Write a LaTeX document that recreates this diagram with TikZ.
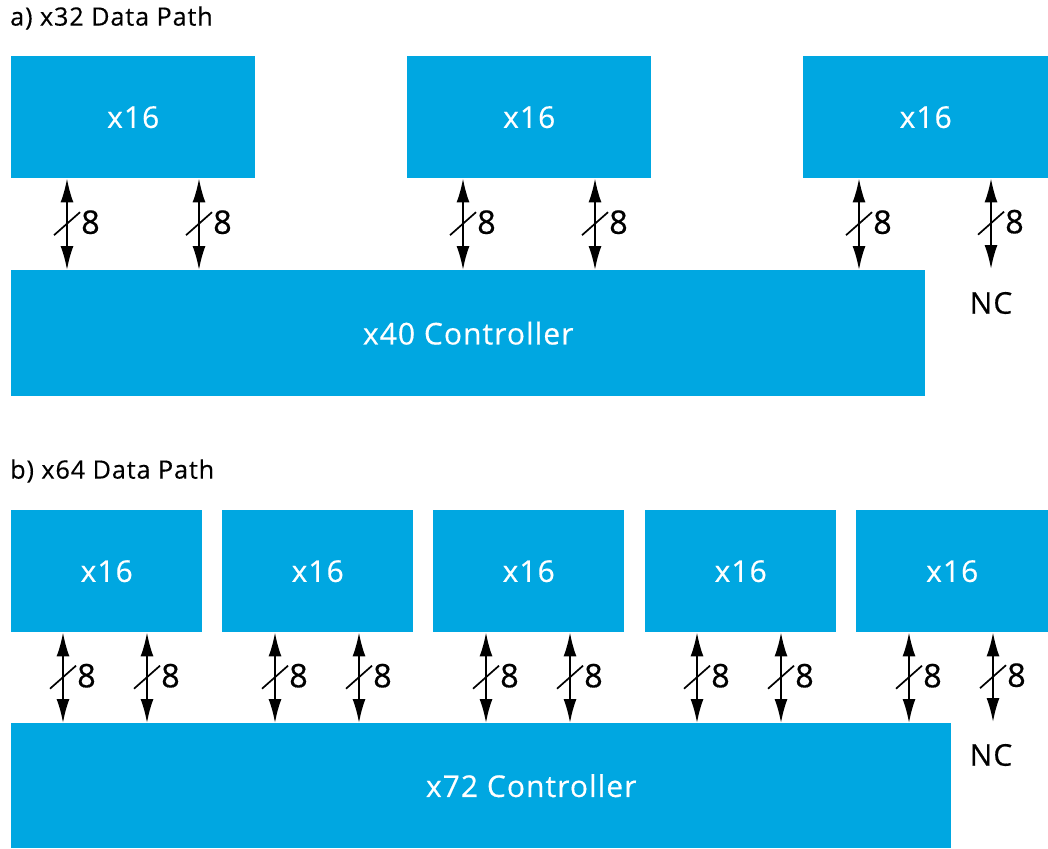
\documentclass[tikz,border=0pt]{standalone}
\usepackage{fontspec}
\setmainfont{Open Sans}[LetterSpace=3.5,FakeBold=0.4]
\usetikzlibrary{arrows.meta,calc}
\definecolor{chip}{RGB}{0,167,225}
\newcommand\busline[3]{%
  \draw[bus] (#2.south -| #1,0) -- (#3.north -| #1,0) coordinate[midway] (m);
  \draw[slash] ($(m)+(-13,11)$) -- ($(m)+(13,-12)$);
  \node[lab] at ($(m)+(14,-2)$) {8};}
\newcommand\ncline[3]{%
  \draw[bus] (#2.south -| #1,0) -- (#3) coordinate[midway] (m);
  \draw[slash] ($(m)+(-13,11)$) -- ($(m)+(13,-12)$);
  \node[lab] at ($(m)+(14,-2)$) {8};}
\begin{document}
\begin{tikzpicture}[x=1pt,y=-1pt,
  box/.style={fill=chip, text=white, inner sep=0, anchor=north west,
    font=\fontsize{30}{36}\selectfont},
  boxtext/.style={text=white, inner sep=0, font=\fontsize{30}{36}\selectfont},
  bus/.style={{Latex[length=24pt,width=13pt]}-{Latex[length=24pt,width=13pt]}, line width=2pt},
  slash/.style={line width=1.7pt},
  lab/.style={anchor=west, inner sep=0, font=\fontsize{32.5}{38}\selectfont},
  title/.style={anchor=west, inner sep=0, font=\fontsize{25.2}{30}\selectfont},
  nc/.style={inner sep=0, font=\fontsize{30}{36}\selectfont}]
\useasboundingbox (0,0) rectangle (1048,848);
% ---------- a)
\node[title] (ta) at (10,18) {a) x32 Data Path};
\node[box, minimum width=244pt, minimum height=122pt] (a1) at (11,56) {x16};
\node[box, minimum width=244pt, minimum height=122pt] (a2) at (407,56) {x16};
\node[box, minimum width=245pt, minimum height=122pt] (a3) at (803,56) {x16};
\node[box, minimum width=914pt, minimum height=126pt] (ca) at (11,270) {x40 Controller};
\busline{67}{a1}{ca}
\busline{199}{a1}{ca}
\busline{463}{a2}{ca}
\busline{595}{a2}{ca}
\busline{859}{a3}{ca}
\coordinate (nca) at (991,269);
\ncline{991}{a3}{nca}
\node[nc] (NCa) at (991,303) {NC};
% ---------- b)
\node[title] (tb) at (10,471) {b) x64 Data Path};
\node[box, minimum width=191pt, minimum height=122pt] (b1) at (11,510) {x16};
\node[box, minimum width=191pt, minimum height=122pt] (b2) at (222,510) {x16};
\node[box, minimum width=191pt, minimum height=122pt] (b3) at (433,510) {x16};
\node[box, minimum width=191pt, minimum height=122pt] (b4) at (645,510) {x16};
\node[box, minimum width=192pt, minimum height=122pt] (b5) at (856,510) {x16};
\node[box, minimum width=940pt, minimum height=125pt] (cb) at (11,723) {};
\node[boxtext] (cbt) at ($(cb.center)+(50,0)$) {x72 Controller};
\busline{63}{b1}{cb}
\busline{147}{b1}{cb}
\busline{275}{b2}{cb}
\busline{359}{b2}{cb}
\busline{486}{b3}{cb}
\busline{570}{b3}{cb}
\busline{697}{b4}{cb}
\busline{781}{b4}{cb}
\busline{909}{b5}{cb}
\coordinate (ncb) at (993,722);
\ncline{993}{b5}{ncb}
\node[nc] (NCb) at (991,755) {NC};
\end{tikzpicture}
\end{document}
